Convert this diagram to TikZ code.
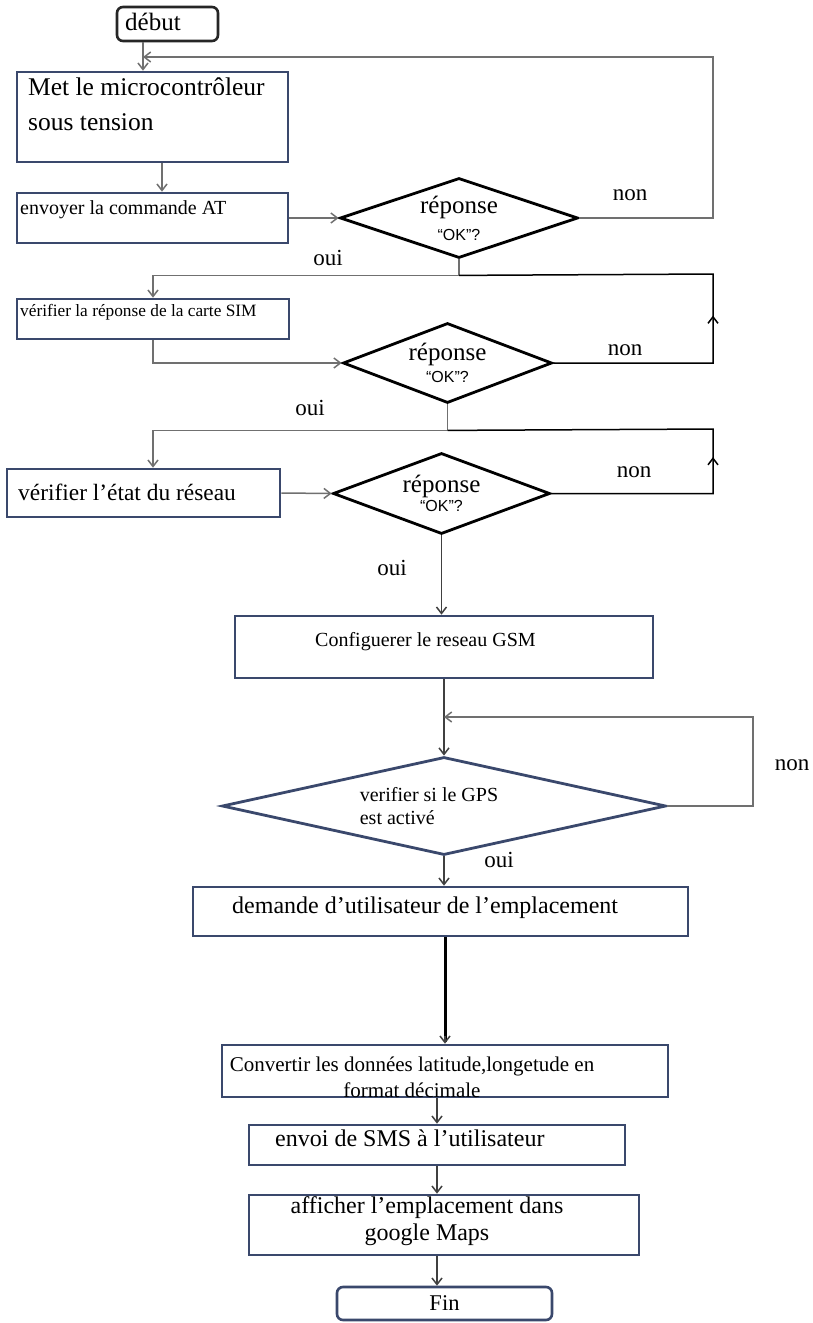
\documentclass[tikz,border=0pt]{standalone}
\usepackage{fontspec}
\setmainfont{Liberation Serif}
\newfontfamily\oksans{Liberation Sans}
\usepackage{tikz}
\usetikzlibrary{arrows.meta,shapes.geometric,decorations.markings}
\definecolor{boxblue}{RGB}{58,72,108}
\definecolor{wiregray}{RGB}{112,112,112}
\newcommand{\pxfont}[2]{\fontsize{#1}{#2}\selectfont}

\begin{document}
\begin{tikzpicture}[x=1pt,y=-1pt,
    >={Straight Barb[length=6.5pt,width=10pt]},
    box/.style={draw=boxblue, line width=2.6pt, inner sep=0pt},
    endbox/.style={box, rounded corners=6pt},
    decide/.style={diamond, draw=black, line width=2.8pt, inner sep=0pt, align=center},
    lbl/.style={inner sep=0pt, anchor=west},
    answer/.style={inner sep=0pt, font=\pxfont{23}{27}},
    wire/.style={draw=wiregray, line width=1.5pt},
    loopw/.style={draw=black, line width=1.5pt},
    upmark/.style={postaction={decorate, decoration={markings,
        mark=at position #1 with {\arrow{Straight Barb[length=6.5pt,width=10pt]}}}}}]

      \path[use as bounding box, fill=white] (0,0) rectangle (813,1323);

          %%  boxes  %%
      \node[endbox, draw=black!85, minimum width=101pt, minimum height=34pt] (debut) at (167.5,24) {};
      \node[box, minimum width=271pt, minimum height=90pt] (met) at (152.5,117) {};
      \node[box, minimum width=271pt, minimum height=50pt] (env) at (152.5,218) {};
      \node[box, minimum width=272pt, minimum height=40pt] (sim) at (153,319) {};
      \node[box, minimum width=273pt, minimum height=48pt] (reseau) at (143.5,493) {};
      \node[box, minimum width=418pt, minimum height=62pt] (gsm) at (444,647) {};
      \node[box, minimum width=495pt, minimum height=49pt] (dem) at (440.5,911.5) {};
      \node[box, minimum width=446pt, minimum height=52pt] (conv) at (445,1071) {};
      \node[box, minimum width=376pt, minimum height=40pt] (envoi) at (437,1145) {};
      \node[box, minimum width=390pt, minimum height=60pt] (aff) at (444,1225) {};
      \node[endbox, minimum width=215pt, minimum height=33pt, font=\pxfont{22.5}{27}] (fin) at (444.5,1303.5) {Fin};

          %%  box texts  %%
      \node[lbl, font=\pxfont{25}{30}] (debutT) at (125,22) {début};
      \node[lbl, font=\pxfont{25.5}{35}, align=left] (metT) at (28,104.6) {Met le microcontrôleur\\sous tension};
      \node[lbl, font=\pxfont{20}{24}] (envT) at (20,210) {envoyer la commande AT};
      \node[lbl, font=\pxfont{17.3}{21}] (simT) at (20,312) {vérifier la réponse de la carte SIM};
      \node[lbl, font=\pxfont{23.4}{28}] (reseauT) at (18,492) {vérifier l'état du réseau};
      \node[lbl, font=\pxfont{20}{24}] (gsmT) at (315,642) {Configuerer le reseau GSM};
      \node[lbl, font=\pxfont{24}{29}] (demT) at (232,908) {demande d'utilisateur de l'emplacement};
      \node[inner sep=0pt, font=\pxfont{21}{26}, align=center] (convT) at (412,1077.6)
          {Convertir les données latitude,longetude en\\format décimale};
      \node[lbl, font=\pxfont{24}{29}] (envoiT) at (275,1138) {envoi de SMS à l'utilisateur};
      \node[inner sep=0pt, font=\pxfont{24}{27}, align=center] (affT) at (427,1221.5)
          {afficher l'emplacement dans\\google Maps};

          %%  decisions  %%
      \node[decide, minimum width=238pt, minimum height=80pt, aspect=2.975, font=\pxfont{25}{27}] (d1) at (459,218)
          {réponse\\{\oksans\pxfont{16}{16}“OK”?}};
      \node[decide, minimum width=209pt, minimum height=80pt, aspect=2.61, font=\pxfont{25}{22}] (d2) at (447.5,363)
          {réponse\\{\oksans\pxfont{16}{16}“OK”?}};
      \node[decide, minimum width=217pt, minimum height=81pt, aspect=2.68, font=\pxfont{25}{19}] (d3) at (441.5,493.5)
          {réponse\\{\oksans\pxfont{16}{16}“OK”?}};
      \node[decide, draw=boxblue, line width=2.8pt, minimum width=444pt, minimum height=98pt, aspect=4.53,
          align=left, font=\pxfont{20}{23}] (d4) at (444,806)
          {verifier si le GPS\hspace*{30pt}\\est activé};

          %%  oui / non  %%
      \node[answer] (non1) at (630,195) {non};
      \node[answer] (oui1) at (328,258) {oui};
      \node[answer] (non2) at (625,350) {non};
      \node[answer] (oui2) at (310,408) {oui};
      \node[answer] (non3) at (634,472) {non};
      \node[answer] (oui3) at (392,568) {oui};
      \node[answer] (non4) at (792,765) {non};
      \node[answer] (oui4) at (499,860) {oui};

          %%  bends  %%
      \coordinate (dtop) at ([xshift=-24.5pt]debut.south);
      \coordinate (mbot) at ([xshift=9.5pt]met.south);
      \coordinate (j1) at ([yshift=-16pt]d1.south);
      \coordinate (j2) at ([yshift=-26pt]d2.south);
      \coordinate (r1) at (713,57);
      \coordinate (r2) at (713,274);
      \coordinate (r3) at (713,429);
      \coordinate (r4) at (753,717);

          %%  connectors  %%
      \draw[wire,->] (dtop) -- (dtop |- met.north);
      \draw[wire,->] (d1.east) -| (r1) -- (r1 -| dtop);
      \draw[wire,->] (mbot) -- (mbot |- env.north);
      \draw[wire,->] (env.east) -- (d1.west);
      \draw[wire,->] (d1.south) -- (j1) -| (sim.north);
      \draw[loopw, upmark=207pt] (d2.east) -| (r2) -- (j1);
      \draw[wire,->] (sim.south) |- (d2.west);
      \draw[wire,->] (d2.south) -- (j2) -| ([xshift=9.5pt]reseau.north);
      \draw[loopw, upmark=198pt] (d3.east) -| (r3) -- (j2);
      \draw[wire,->] (reseau.east) -- (d3.west);
      \draw[loopw, draw=black!75, ->] (d3.south) -- (d3.south |- gsm.north);
      \draw[loopw, draw=black!75, ->] (gsm.south) -- (d4.north);
      \draw[wire, ->] (d4.east) -| (r4) -- (r4 -| d4.north);
      \draw[loopw, draw=black!75, ->] (d4.south) -- (d4.south |- dem.north);
      \draw[black, line width=3pt] (conv.north |- dem.south) -- ([yshift=2pt]conv.north);
      \draw[wire, draw=black!75, ->] ([yshift=8pt]conv.north) -- (conv.north);
      \draw[loopw, draw=black!75, ->] (envoi.north |- conv.south) -- (envoi.north);
      \draw[loopw, draw=black!75, ->] (envoi.south) -- (envoi.south |- aff.north);
      \draw[loopw, draw=black!75, ->] (envoi.south |- aff.south) -- (envoi.south |- fin.north);

\end{tikzpicture}
\end{document}
